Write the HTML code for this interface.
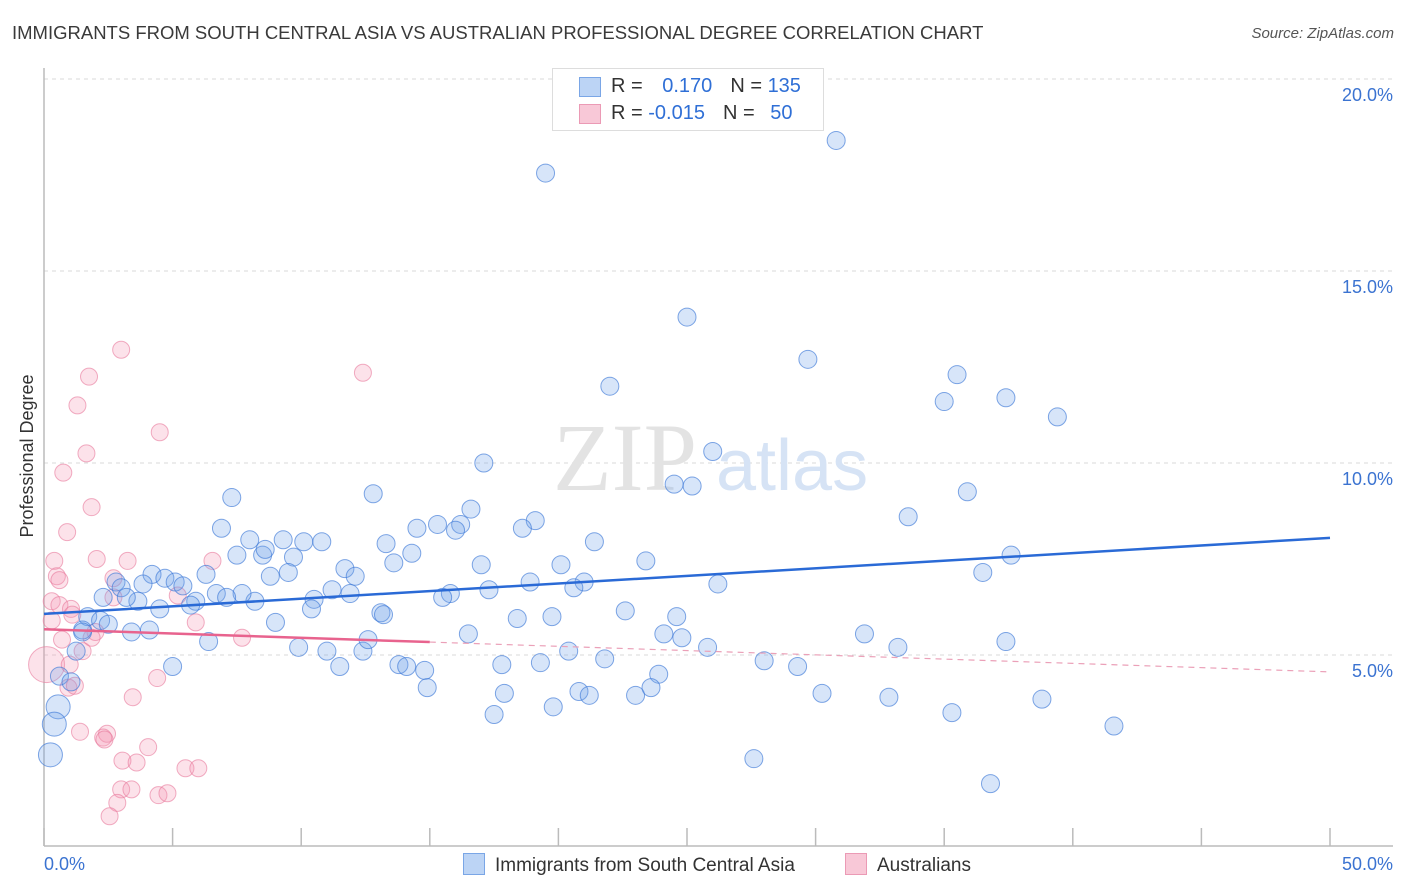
<!DOCTYPE html>
<html><head><meta charset="utf-8"><style>
body{margin:0;background:#fff;font-family:"Liberation Sans",sans-serif;}
#wrap{position:relative;width:1406px;height:892px;overflow:hidden;}
.t{position:absolute;white-space:nowrap;}
</style></head><body>
<div id="wrap">
<div class="t" style="left:12px;top:22px;font-size:18.5px;color:#3a3a3a;">IMMIGRANTS FROM SOUTH CENTRAL ASIA VS AUSTRALIAN PROFESSIONAL DEGREE CORRELATION CHART</div>
<div class="t" style="right:12px;top:25px;font-size:15px;color:#555;font-style:italic;">Source: ZipAtlas.com</div>
<svg id="svg" width="1406" height="892" style="position:absolute;left:0;top:0"></svg>
</div>
<script>
const xTicks=[0,5,10,15,20,25,30,35,40,45,50];
const yTicks=[5,10,15,20];
const yTickLabels=["5.0%","10.0%","15.0%","20.0%"];
const xLabels=["0.0%","50.0%"];
const blueX=[19.5,30.8,25.0,29.7,22.0,35.5,35.0,37.4,39.4,17.1,26.0,24.5,25.2,35.9,33.6,7.3,12.8,16.6,19.1,18.6,16.2,15.3,16.0,14.5,6.9,8.0,9.3,10.1,10.8,13.3,21.4,14.3,7.5,8.5,8.6,9.7,17.0,20.1,23.4,13.6,11.7,37.6,36.5,6.3,9.5,8.8,12.1,4.2,4.7,5.1,5.4,3.85,2.8,3.0,26.2,21.0,20.6,18.9,17.3,15.8,15.5,11.9,11.2,10.5,8.2,7.7,6.7,7.1,5.9,5.7,4.5,3.65,3.2,2.3,10.4,13.1,13.2,22.6,24.6,19.75,18.4,1.7,2.2,2.5,1.5,3.4,4.1,9.0,6.4,9.9,11.0,12.4,12.6,16.5,24.1,24.8,31.9,33.2,25.8,37.4,20.4,21.8,19.3,17.8,13.8,14.1,14.8,11.5,5.0,1.25,1.5,0.6,1.05,23.9,14.9,23.6,20.8,21.2,23.0,17.9,28.0,29.3,30.25,32.85,38.8,19.8,17.5,35.3,41.6,0.55,0.4,0.25,27.6,36.8];
const blueY=[17.55,18.4,13.8,12.7,12.0,12.3,11.6,11.7,11.2,10.0,10.3,9.45,9.4,9.25,8.6,9.1,9.2,8.8,8.5,8.3,8.4,8.4,8.25,8.3,8.3,8.0,8.0,7.95,7.95,7.9,7.95,7.65,7.6,7.6,7.75,7.55,7.35,7.35,7.45,7.4,7.25,7.6,7.15,7.1,7.15,7.05,7.05,7.1,7.0,6.9,6.8,6.85,6.9,6.75,6.85,6.9,6.75,6.9,6.7,6.6,6.5,6.6,6.7,6.45,6.4,6.6,6.6,6.5,6.4,6.3,6.2,6.4,6.5,6.5,6.2,6.1,6.05,6.15,6.0,6.0,5.95,6.0,5.9,5.8,5.65,5.6,5.65,5.85,5.35,5.2,5.1,5.1,5.4,5.55,5.55,5.45,5.55,5.2,5.2,5.35,5.1,4.9,4.8,4.75,4.75,4.7,4.6,4.7,4.7,5.1,5.6,4.45,4.3,4.5,4.15,4.15,4.05,3.95,3.95,4.0,4.85,4.7,4.0,3.9,3.85,3.65,3.45,3.5,3.15,3.65,3.2,2.4,2.3,1.65];
const pinkX=[3.0,12.4,1.75,1.3,4.5,1.65,0.75,1.85,0.9,0.4,3.25,6.55,2.05,0.5,0.6,2.7,2.7,0.3,0.6,1.05,1.1,5.2,5.9,7.7,2.0,1.85,0.3,0.1,1.0,0.95,1.2,4.4,3.45,1.4,2.45,2.3,2.35,4.05,3.05,3.6,5.5,6.0,3.0,3.4,2.85,4.45,4.8,2.55,0.7,1.5];
const pinkY=[12.95,12.35,12.25,11.5,10.8,10.25,9.75,8.85,8.2,7.45,7.45,7.45,7.5,7.05,6.95,7.0,6.5,6.4,6.3,6.2,6.05,6.55,5.85,5.45,5.6,5.45,5.9,4.75,4.75,4.15,4.2,4.4,3.9,3.0,2.95,2.85,2.8,2.6,2.25,2.2,2.05,2.05,1.5,1.5,1.15,1.35,1.4,0.8,5.4,5.1];
const pinkBig=[27];
const blueTrend=[6.07,8.05];
const pinkTrend=[5.67,4.56];
const pinkSolidEnd=15;

const X0=44,X1=1330,Y0=847,PXPER=38.4;
const sx=v=>X0+(X1-X0)*v/50;
const sy=v=>Y0-v*PXPER;
const svg=document.getElementById('svg');
const NS='http://www.w3.org/2000/svg';
function mk(tag,attrs){const e=document.createElementNS(NS,tag);for(const k in attrs)e.setAttribute(k,attrs[k]);svg.appendChild(e);return e;}

yTicks.forEach((v,i)=>{
  const g=mk('line',{x1:X0,x2:1393,y1:sy(v),y2:sy(v),stroke:'#d8d8d8','stroke-dasharray':'4,4','stroke-width':1});
  
  
  const t=mk('text',{x:1393,y:sy(v)+22,'text-anchor':'end','font-size':18,fill:'#3b73d1','font-family':'Liberation Sans, sans-serif'});
  t.textContent=yTickLabels[i];
  
  
});
const wm=mk('text',{x:553,y:490,'font-size':96,fill:'#e3e3e3','font-family':'Liberation Serif, serif'});
wm.textContent='ZIP';


const wm2=mk('text',{x:716,y:490,'font-size':72,fill:'#d6e3f5','font-family':'Liberation Sans, sans-serif'});
wm2.textContent='atlas';


const ax=mk('line',{x1:X0,x2:X0,y1:68,y2:846,stroke:'#bbb','stroke-width':1.5});


const bx=mk('line',{x1:X0,x2:1393,y1:846,y2:846,stroke:'#bbb','stroke-width':1.5});


xTicks.forEach(v=>{
  const l=mk('line',{x1:sx(v),x2:sx(v),y1:828,y2:846,stroke:'#bbb','stroke-width':1.5});
  
  
});
[[0,'start',44],[50,'end',1393]].forEach((p,i)=>{
  const t=mk('text',{x:p[2],y:870,'text-anchor':p[1],'font-size':18,fill:'#3b73d1','font-family':'Liberation Sans, sans-serif'});
  t.textContent=xLabels[i];
  
  
});
const yt=mk('text',{x:0,y:0,transform:'translate(33,456) rotate(-90)','text-anchor':'middle','font-size':18,fill:'#333','font-family':'Liberation Sans, sans-serif'});
yt.textContent='Professional Degree';



pinkX.forEach((v,i)=>{
  const c=mk('circle',{cx:sx(v),cy:sy(pinkY[i]),r:pinkBig.includes(i)?18:8.5,fill:'rgba(244,150,180,0.28)',stroke:'rgba(232,120,155,0.6)','stroke-width':1});
  
  
});
blueX.forEach((v,i)=>{
  const c=mk('circle',{cx:sx(v),cy:sy(blueY[i]),r:v<0.58?12:9,fill:'rgba(110,160,235,0.28)',stroke:'rgba(60,120,215,0.65)','stroke-width':1});
  
  
});
const tb=mk('line',{x1:sx(0),y1:sy(blueTrend[0]),x2:sx(50),y2:sy(blueTrend[1]),stroke:'#2a6ad6','stroke-width':2.5});


const pAt=x=>pinkTrend[0]+(pinkTrend[1]-pinkTrend[0])*x/50;
const tp=mk('line',{x1:sx(0),y1:sy(pAt(0)),x2:sx(pinkSolidEnd),y2:sy(pAt(pinkSolidEnd)),stroke:'#e8638e','stroke-width':2.5});


const tpd=mk('line',{x1:sx(pinkSolidEnd),y1:sy(pAt(pinkSolidEnd)),x2:sx(50),y2:sy(pAt(50)),stroke:'#eba0b8','stroke-width':1.2,'stroke-dasharray':'6,5'});


</script>
<div class="t" style="left:552px;top:68px;width:270px;height:61px;border:1px solid #ddd;background:#fff;font-size:20px;">
  <div style="position:absolute;left:26px;top:8px;width:20px;height:18px;background:#bcd4f5;border:1px solid #7aa6e6;"></div>
  <div style="position:absolute;left:26px;top:35px;width:20px;height:18px;background:#f8c8d7;border:1px solid #eb9ab5;"></div>
  <div style="position:absolute;left:58px;top:6px;color:#333;">R = <span style="color:#2f6fd6;margin-left:14px">0.170</span><span style="margin-left:18px">N = </span><span style="color:#2f6fd6">135</span></div>
  <div style="position:absolute;left:58px;top:33px;color:#333;">R = <span style="color:#2f6fd6">-0.015</span><span style="margin-left:18px">N = </span><span style="color:#2f6fd6;margin-left:10px">50</span></div>
</div>
<div class="t" style="left:463px;top:853px;font-size:19px;color:#333;">
  <span style="display:inline-block;width:20px;height:20px;background:#bcd4f5;border:1px solid #7aa6e6;vertical-align:-4px;margin-right:10px"></span>Immigrants from South Central Asia</div>
<div class="t" style="left:845px;top:853px;font-size:19px;color:#333;">
  <span style="display:inline-block;width:20px;height:20px;background:#f8c8d7;border:1px solid #eb9ab5;vertical-align:-4px;margin-right:10px"></span>Australians</div>
</body></html>
